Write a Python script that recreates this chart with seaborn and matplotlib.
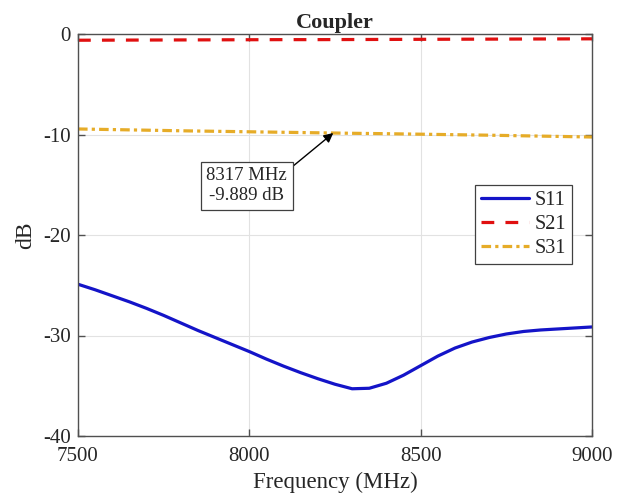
import matplotlib
matplotlib.use("Agg")
from matplotlib import pyplot as plt
import seaborn as sns
import numpy as np
import pandas as pd

# data (MHz, dB)
freq_s11 = [7500, 7550, 7600, 7650, 7700, 7750, 7800, 7850, 7900, 7950, 8000,
            8050, 8100, 8150, 8200, 8250, 8300, 8350, 8400, 8450, 8500,
            8550, 8600, 8650, 8700, 8750, 8800, 8850, 8900, 8950, 9000]
s11 = [-24.9, -25.45, -26.05, -26.65, -27.3, -28.0, -28.75, -29.5, -30.2, -30.9, -31.6,
       -32.35, -33.05, -33.7, -34.3, -34.85, -35.3, -35.25, -34.75, -33.95, -33.0,
       -32.05, -31.25, -30.65, -30.2, -29.85, -29.6, -29.45, -29.35, -29.25, -29.15]

freq = [7500, 7600, 7700, 7800, 7900, 8000, 8100, 8200,
        8300, 8400, 8500, 8600, 8700, 8800, 8900, 9000]
s21 = [-0.62, -0.61, -0.60, -0.59, -0.58, -0.57, -0.56, -0.56,
       -0.55, -0.54, -0.53, -0.52, -0.51, -0.50, -0.49, -0.48]
s31 = [-9.45, -9.51, -9.57, -9.63, -9.68, -9.73, -9.78, -9.83,
       -9.88, -9.92, -9.97, -10.02, -10.07, -10.13, -10.19, -10.25]

marker_label = "8317 MHz\n-9.889 dB"
x_ticks = [7500, 8000, 8500, 9000]
y_ticks = [0, -10, -20, -30, -40]

sns.set_style("ticks")
plt.rcParams['font.family'] = ['Liberation Serif', 'DejaVu Serif']
plt.rcParams['axes.unicode_minus'] = False

df11 = pd.DataFrame({"f": freq_s11, "dB": s11})
df21 = pd.DataFrame({"f": freq, "dB": s21})
df31 = pd.DataFrame({"f": freq, "dB": s31})

fig = plt.figure(figsize=(6.24, 4.95), dpi=100)
ax = fig.add_axes([78 / 624, 1 - 436 / 495, 514 / 624, 402 / 495])

sns.lineplot(data=df11, x="f", y="dB", ax=ax, color="#1414C8", lw=2.3, label="S11")
sns.lineplot(data=df21, x="f", y="dB", ax=ax, color="#E01010", lw=2.3, label="S21")
ax.lines[-1].set_dashes((4, 3.5))
sns.lineplot(data=df31, x="f", y="dB", ax=ax, color="#E6AC28", lw=2.3, label="S31")
ax.lines[-1].set_dashes((3, 1.3, 1, 1.3))

ax.set_xlim(7500, 9000)
ax.set_ylim(-40, 0)
ax.set_xticks(x_ticks)
ax.set_yticks(y_ticks)
ax.grid(True, color="#e2e2e2", lw=0.8)
ax.set_axisbelow(True)
for s in ax.spines.values():
    s.set_color("#505050")
    s.set_linewidth(1.0)
ax.tick_params(direction="in", length=5, width=1, color="#505050",
               top=True, right=True, labelsize=15)
ax.tick_params(axis="x", pad=8)
ax.tick_params(axis="y", pad=5)

ax.set_xlabel("Frequency (MHz)", fontsize=16.5, labelpad=4)
ax.set_ylabel("dB", fontsize=17, labelpad=5)
ax.set_title("Coupler", fontsize=16, fontweight="bold", pad=4)

leg = ax.legend(loc="upper right", bbox_to_anchor=(0.962, 0.625), fontsize=14.5,
                frameon=True, fancybox=False, framealpha=1, edgecolor="#404040",
                handlelength=2.4, handletextpad=0.3, borderpad=0.3, labelspacing=0.25,
                borderaxespad=0)
leg.get_frame().set_linewidth(0.9)

ax.annotate(marker_label, xy=(8245, -9.85), xytext=(7992, -15.1),
            fontsize=13.5, ha="center", va="center",
            bbox=dict(boxstyle="square,pad=0.3", fc="white", ec="#404040", lw=0.9),
            arrowprops=dict(arrowstyle="-|>", color="black", lw=1,
                            mutation_scale=14, relpos=(1.0, 0.9), shrinkA=0, shrinkB=0))

fig.savefig("out.png", dpi=100)
